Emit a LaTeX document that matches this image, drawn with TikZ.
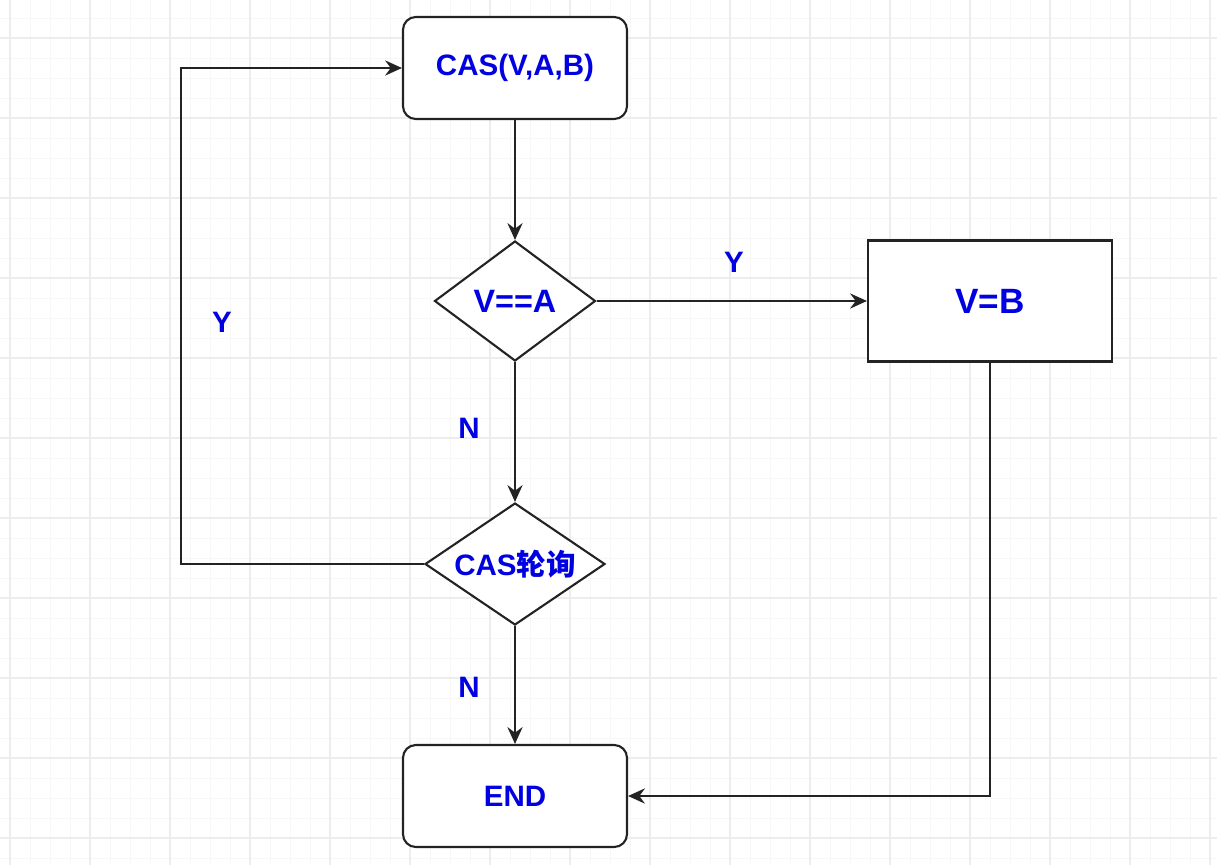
\documentclass[tikz,border=0pt]{standalone}
\usepackage{fontspec}
\setmainfont{Liberation Sans}
\newfontfamily\cjk{Noto Sans CJK SC}
\usepackage{xcolor}
\usetikzlibrary{arrows.meta,shapes.geometric}
\definecolor{txtblue}{RGB}{0,0,225}
\definecolor{linegray}{RGB}{35,35,35}

\tikzset{
  gridminor/.style={line width=0.35pt,color=black!3},
  gridmajor/.style={line width=0.4pt,color=black!7},
  txt/.style={text=txtblue,font=\bfseries\fontsize{10.5}{12}\selectfont},
  term/.style={draw=linegray,line width=0.75pt,fill=white,rounded corners=0.16cm,
    minimum width=2.8cm,minimum height=1.275cm,txt},
  proc/.style={draw=linegray,line width=0.75pt,fill=white,
    minimum width=3.05cm,minimum height=1.5125cm,txt},
  cond/.style={diamond,draw=linegray,line width=0.75pt,fill=white,inner sep=0pt,txt},
  link/.style={draw=linegray,line width=0.75pt,-{Stealth[length=6pt,width=5.4pt,inset=2pt]}}
}

\begin{document}
\begin{tikzpicture}
\useasboundingbox (0,0) rectangle (15.2125,10.8125);
% background grid
\foreach \i in {0,...,60}
  \draw[gridminor] ({0.125+0.25*\i},0) -- ({0.125+0.25*\i},10.8125);
\foreach \i in {0,...,42}
  \draw[gridminor] (0,{0.0875+0.25*\i}) -- (15.2125,{0.0875+0.25*\i});
\foreach \i in {0,...,15}
  \draw[gridmajor] ({0.125+\i},0) -- ({0.125+\i},10.8125);
\foreach \i in {0,...,10}
  \draw[gridmajor] (0,{0.3375+\i}) -- (15.2125,{0.3375+\i});

% nodes
\node[term] (cas) at (6.4375,9.9625) {CAS(V,A,B)};
\node[cond,aspect=1.34,minimum width=2.0125cm,minimum height=1.5cm,
  font=\bfseries\fontsize{11.5}{13}\selectfont] (eqa) at (6.4375,7.05) {V==A};
\node[proc,font=\bfseries\fontsize{12.5}{14}\selectfont] (setb) at (12.375,7.05) {V=B};
\node[cond,aspect=1.475,minimum width=2.25cm,minimum height=1.525cm] (poll) at (6.4375,3.7625) {CAS{\cjk 轮询}};
\node[term] (end) at (6.4375,0.8625) {END};
\coordinate (loop) at (2.2625,3.7625);

% connectors
\draw[link] (cas) -- (eqa);
\draw[link] (eqa) -- (setb);
\draw[link] (eqa) -- (poll);
\draw[link] (poll) -- (end);
\draw[link] (poll.west) -- (loop) |- (cas.west);
\draw[link] (setb.south) |- (end.east);

% labels
\node[txt] (ylbla) at (9.175,7.5375) {Y};
\node[txt] (ylblb) at (2.775,6.7875) {Y};
\node[txt] (nlbla) at (5.8625,5.4625) {N};
\node[txt] (nlblb) at (5.8625,2.225) {N};
\end{tikzpicture}
\end{document}
